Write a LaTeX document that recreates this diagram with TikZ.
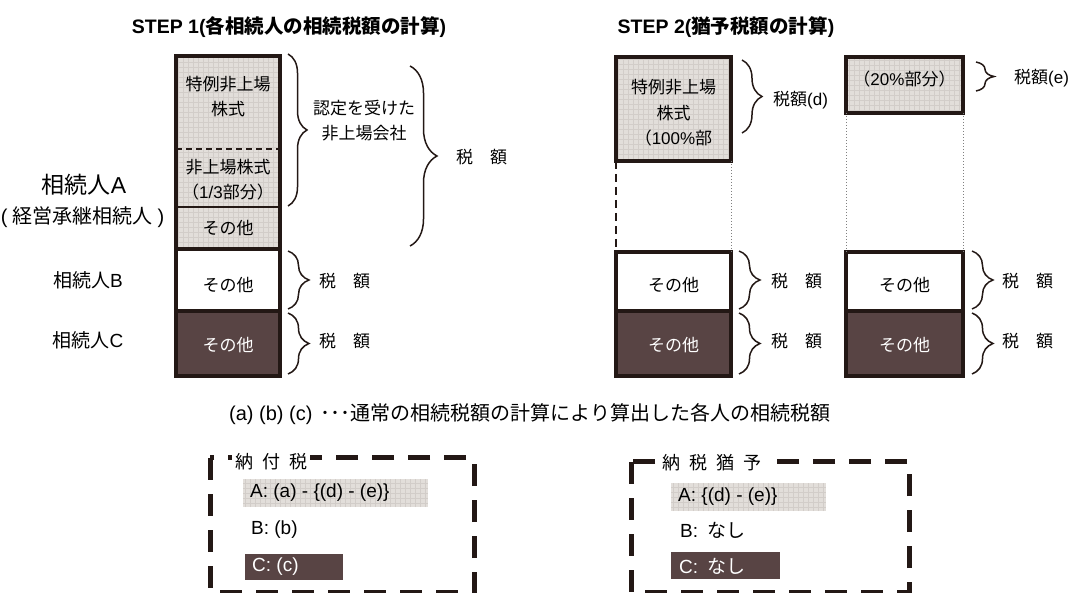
\documentclass[tikz,border=0pt]{standalone}
\usepackage{fontspec}
\setmainfont{Noto Sans CJK JP}
\newfontfamily\lat{Liberation Sans}
\usetikzlibrary{decorations.pathreplacing}
\definecolor{ink}{RGB}{35,24,21}
\definecolor{cbrown}{RGB}{88,68,68}
\definecolor{gfill}{RGB}{226,222,218}
\definecolor{gline}{RGB}{210,205,201}
\newcommand{\fsz}[2]{\fontsize{#1}{#2}\selectfont}
\tikzset{
  box/.style={draw=ink, line width=4pt, inner sep=0pt, outer sep=0pt},
  gridfill/.style={fill=gfill, path picture={\draw[gline,line width=0.4pt] (path picture bounding box.south west) grid[step=5pt] (path picture bounding box.north east);}},
  darkfill/.style={fill=cbrown},
  txt/.style={font=\fsz{17}{25}, inner sep=0pt, align=center, text=black},
  wtxt/.style={txt, text=white},
  person/.style={font=\fsz{19}{22}, inner sep=0pt},
  title/.style={font=\fsz{19.5}{22}\bfseries, inner sep=0pt},
  brc/.style={decorate, decoration={brace, amplitude=#1}, line width=1.5pt, draw=ink},
  thinsep/.style={draw=ink, line width=1.3pt},
  dashsep/.style={draw=ink, line width=1.3pt, dash pattern=on 6pt off 4pt},
  gapdash/.style={draw=ink, line width=1.8pt, dash pattern=on 8pt off 5pt},
  gapdot/.style={draw=gray, line width=0.9pt, dash pattern=on 1.5pt off 1.5pt},
  framebox/.style={draw=ink, line width=5pt, dash pattern=on 22pt off 14pt},
  framelbl/.style={font=\fsz{18}{20}, fill=white, inner xsep=3pt, inner ysep=1pt},
  itemrow/.style={font=\fsz{19}{22}, inner sep=0pt, anchor=west}
}
\begin{document}
\begin{tikzpicture}[x=1pt,y=-1pt]
\useasboundingbox (0,0) rectangle (1074,593);

% titles
\node[title] (t1) at (289,27) {{\lat\bfseries STEP 1(}各相続人の相続税額の計算{\lat\bfseries )}};
\node[title] (t2) at (726,27) {{\lat\bfseries STEP 2(}猶予税額の計算{\lat\bfseries )}};

% ---------- STEP 1 column ----------
\node[box, gridfill, minimum width=104pt, minimum height=193pt] (A1) at (228,152.5) {};
\node[box, fill=white, minimum width=104pt, minimum height=62pt] (B1) at (228,280) {};
\node[box, darkfill, minimum width=104pt, minimum height=65pt] (C1) at (228,343.5) {};
\draw[dashsep] (A1.west |- 0,149) -- (A1.east |- 0,149);
\draw[thinsep] (A1.west |- 0,207) -- (A1.east |- 0,207);
\node[txt] (a1t) at (228,97) {特例非上場\\株式};
\node[txt] (a2t) at (228,180) {非上場株式\\（{\lat 1/3}部分）};
\node[txt] (a3t) at (228,228) {その他};
\node[txt] (b1t) at (228,285) {その他};
\node[wtxt] (c1t) at (228,345) {その他};

% persons
\node[font=\fsz{23}{26}, inner sep=0pt] (pA) at (84,185) {相続人{\lat A}};
\node[font=\fsz{20}{24}, inner sep=0pt] (pA2) at (82.5,217) {{\lat (}\hspace{5pt}経営承継相続人\hspace{5pt}{\lat )}};
\node[person] (pB) at (88,280) {相続人{\lat B}};
\node[person] (pC) at (88,340) {相続人{\lat C}};

% braces step 1
\draw[brc=19] (288,54) -- (288,206);
\node[txt, anchor=west] (nin) at (313,121) {認定を受けた\\非上場会社};
\draw[brc=27] (410,66) -- (410,246);
\node[txt, anchor=west] (zei1) at (456,157) {税　額};
\draw[brc=21] (288,251) -- (288,309);
\node[txt, anchor=west] (zeiB1) at (319,281) {税　額};
\draw[brc=21] (288,313) -- (288,374);
\node[txt, anchor=west] (zeiC1) at (319,341) {税　額};

% ---------- STEP 2 : (d) column ----------
\node[box, gridfill, minimum width=115pt, minimum height=104pt] (D) at (673.5,109) {};
\node[box, fill=white, minimum width=115pt, minimum height=59pt] (DB) at (673.5,281.5) {};
\node[box, darkfill, minimum width=115pt, minimum height=65pt] (DC) at (673.5,343.5) {};
\node[txt, font=\fsz{17}{25.5}] (dt) at (673.5,113) {特例非上場\\株式\\（{\lat 100\%}部};
\node[txt] (dbt) at (673.5,285) {その他};
\node[wtxt] (dct) at (673.5,345) {その他};
\draw[gapdash] (D.south west) -- (DB.north west);
\draw[gapdot] (D.south east) -- (DB.north east);

% ---------- STEP 2 : (e) column ----------
\node[box, gridfill, minimum width=117pt, minimum height=56pt] (E) at (904.5,85) {};
\node[box, fill=white, minimum width=117pt, minimum height=59pt] (EB) at (904.5,281.5) {};
\node[box, darkfill, minimum width=117pt, minimum height=65pt] (EC) at (904.5,343.5) {};
\node[txt] (et) at (904.5,79) {（{\lat 20\%}部分）};
\node[txt] (ebt) at (904.5,285) {その他};
\node[wtxt] (ect) at (904.5,345) {その他};
\draw[gapdot] (E.south west) -- (EB.north west);
\draw[gapdot] (E.south east) -- (EB.north east);

% braces step 2
\draw[brc=20] (742,60) -- (742,133);
\node[txt, anchor=west] (zd) at (773,100) {税額{\lat (d)}};
\draw[brc=18] (976,62) -- (976,91);
\node[txt, anchor=west] (ze) at (1014,78) {税額{\lat (e)}};
\draw[brc=21] (739,251) -- (739,309);
\node[txt, anchor=west] (zdb) at (771,281) {税　額};
\draw[brc=21] (739,313) -- (739,374);
\node[txt, anchor=west] (zdc) at (771,341) {税　額};
\draw[brc=21] (972,251) -- (972,309);
\node[txt, anchor=west] (zeb) at (1002,281) {税　額};
\draw[brc=21] (972,313) -- (972,374);
\node[txt, anchor=west] (zec) at (1002,341) {税　額};

% footnote
\node[font=\fsz{20}{24}, inner sep=0pt, anchor=west] (fn) at (229,414) {{\lat (a) (b) (c)}\hspace{8pt}･･･通常の相続税額の計算により算出した各人の相続税額};

% ---------- bottom frames ----------
\draw[framebox] (210,458) rectangle (474,592);
\node[framelbl] (l1) at (271,462) {納\hspace{9pt}付\hspace{9pt}税};
\node[gridfill, minimum width=185pt, minimum height=28pt, inner sep=0pt] (pa) at (335.5,493) {};
\node[itemrow] (pat) at (250,493) {\lat A: (a) - \{(d) - (e)\}};
\node[itemrow] (pbt) at (251,530) {\lat B: (b)};
\node[darkfill, minimum width=98pt, minimum height=26pt, inner sep=0pt] (pc) at (294,567) {};
\node[itemrow, text=white] (pct) at (252,567) {\lat C: (c)};

\draw[framebox] (631,462) rectangle (909,592);
\node[framelbl] (l2) at (712,463) {納\hspace{9pt}税\hspace{9pt}猶\hspace{9pt}予};
\node[gridfill, minimum width=155pt, minimum height=28pt, inner sep=0pt] (ya) at (748.5,497) {};
\node[itemrow] (yat) at (678,497) {\lat A: \{(d) - (e)\}};
\node[itemrow] (ybt) at (680,530) {{\lat B:}\hspace{9pt}なし};
\node[darkfill, minimum width=109pt, minimum height=27pt, inner sep=0pt] (yc) at (725.5,565.5) {};
\node[itemrow, text=white] (yct) at (679,566) {{\lat C:}\hspace{9pt}なし};
\end{tikzpicture}
\end{document}
